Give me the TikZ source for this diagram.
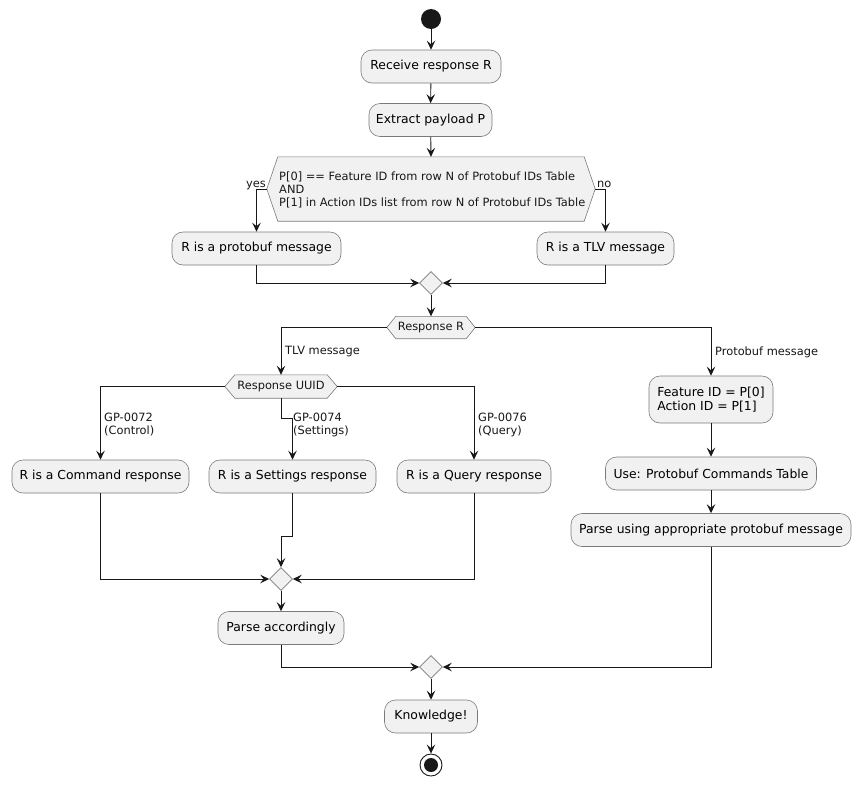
\documentclass[tikz,border=0pt]{standalone}
\usepackage{fontspec}
\setmainfont{DejaVu Sans}
\usetikzlibrary{arrows.meta,shapes.geometric}
\definecolor{actfill}{HTML}{F1F1F1}
\definecolor{bordc}{HTML}{7A7A7A}
\definecolor{linec}{HTML}{181818}
\newcommand\hexdraw[2]{%
  \draw[draw=bordc, fill=actfill, line width=0.6pt] (#1.west) -- ([xshift=#2]#1.north west) -- ([xshift=-#2]#1.north east) -- (#1.east) -- ([xshift=-#2]#1.south east) -- ([xshift=#2]#1.south west) -- cycle;}
\begin{document}
\begin{tikzpicture}[x=1pt,y=-1pt,
  act/.style={draw=bordc, fill=actfill, rounded corners=11pt, line width=0.6pt, minimum height=33pt, inner sep=0pt, align=left, font=\fontsize{12.4}{14.8}\selectfont},
  flow/.style={draw=linec, line width=0.9pt, -{Stealth[length=9pt,width=8.5pt,inset=3.5pt]}},
  lbl/.style={font=\fontsize{11.4}{12.8}\selectfont, inner sep=0pt, align=left, text=linec},
  hexbox/.style={inner sep=0pt},
  merge/.style={draw=bordc, fill=actfill, diamond, minimum width=23pt, minimum height=23pt, inner sep=0pt, line width=0.6pt},
]
\path[fill=white] (0,0) rectangle (861,785);

% start
\node[circle, fill=linec, minimum size=20pt, inner sep=0pt] (start) at (431,19) {};

\node[act, minimum width=140pt] (recv) at (431,66.5) {Receive response R};
\node[act, minimum width=123pt] (extr) at (430.5,120) {Extract payload P};

% condition hexagon
\node[hexbox, minimum width=328pt, minimum height=64pt] (c1) at (431,189) {};
\hexdraw{c1}{11pt}
\node[lbl, anchor=west, font=\fontsize{11.4}{12.6}\selectfont] (c1t) at (279,190) {P[0] == Feature ID from row N of Protobuf IDs Table\\AND\\P[1] in Action IDs list from row N of Protobuf IDs Table};

\node[act, minimum width=169pt] (pb) at (256.5,248.5) {R is a protobuf message};
\node[act, minimum width=137pt] (tlv) at (605.5,248.5) {R is a TLV message};

\node[merge] (m1) at (431,283) {};

\node[hexbox, minimum width=88pt, minimum height=22pt] (rr) at (431,327.5) {};
\hexdraw{rr}{9pt}
\node[lbl] (rrt) at (431,327.5) {Response R};

\node[hexbox, minimum width=112pt, minimum height=23pt] (uuid) at (281,386.5) {};
\hexdraw{uuid}{10pt}
\node[lbl] (uuidt) at (281,386.5) {Response UUID};

\node[act, minimum width=177pt] (cmd) at (100.5,476.5) {R is a Command response};
\node[act, minimum width=167pt] (set) at (292.5,476.5) {R is a Settings response};
\node[act, minimum width=154pt] (qry) at (474,476.5) {R is a Query response};

\node[merge] (m2) at (281,579) {};
\node[act, minimum width=126pt] (parse) at (281,628) {Parse accordingly};

\node[act, minimum width=124pt, minimum height=47pt] (feat) at (711,399.5) {Feature ID = P[0]\\Action ID = P[1]};
\node[act, minimum width=211pt] (use) at (711,473.5) {Use: Protobuf Commands Table};
\node[act, minimum width=280pt] (pp) at (711,530) {Parse using appropriate protobuf message};

\node[merge] (m3) at (431,667) {};
\node[act, minimum width=93pt] (know) at (431,716.5) {Knowledge!};

\node[circle, draw=linec, fill=white, minimum size=22pt, inner sep=0pt, line width=0.9pt] (end) at (431,765) {};
\fill[linec] (end.center) circle (7pt);

% connectors
\draw[flow] (start) -- (recv);
\draw[flow] (recv) -- (extr);
\draw[flow] (extr) -- (c1.north);
\draw[flow] (c1.west) -| (pb.north);
\draw[flow] (c1.east) -| (tlv.north);
\node[lbl, anchor=base east] (yes) at (266,187) {yes};
\node[lbl, anchor=base west] (no) at (597,187) {no};
\draw[flow] (pb.south) |- (m1.west);
\draw[flow] (tlv.south) |- (m1.east);
\draw[flow] (m1.south) -- (rr.north);
\draw[flow] (rr.west) -| (uuid.north);
\draw[flow] (rr.east) -| (feat.north);
\node[lbl, anchor=west] (ltlv) at (285,352) {TLV message};
\node[lbl, anchor=west] (lpb) at (715,352) {Protobuf message};
\draw[flow] (uuid.west) -| (cmd.north);
\draw[flow] (uuid.south) -- ++(0,20) -| (set.north);
\draw[flow] (uuid.east) -| (qry.north);
\node[lbl, anchor=north west] (l72) at (104,413) {GP-0072\\(Control)};
\node[lbl, anchor=north west] (l74) at (293,413) {GP-0074\\(Settings)};
\node[lbl, anchor=north west] (l76) at (478,413) {GP-0076\\(Query)};
\draw[flow] (cmd.south) |- (m2.west);
\draw[flow] (set.south) -- ++(0,43) -| (m2.north);
\draw[flow] (qry.south) |- (m2.east);
\draw[flow] (m2.south) -- (parse.north);
\draw[flow] (feat.south) -- (use.north);
\draw[flow] (use.south) -- (pp.north);
\draw[flow] (parse.south) |- (m3.west);
\draw[flow] (pp.south) |- (m3.east);
\draw[flow] (m3.south) -- (know.north);
\draw[flow] (know.south) -- (end.north);
\end{tikzpicture}
\end{document}
